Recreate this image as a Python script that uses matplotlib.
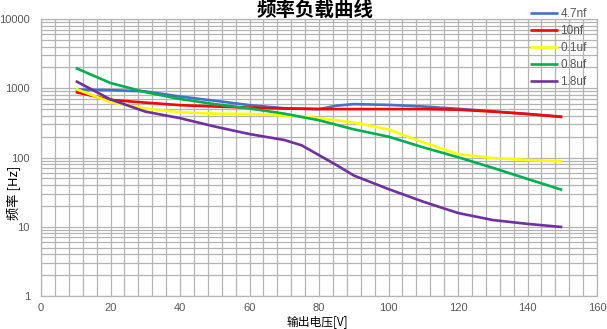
import matplotlib.pyplot as plt
import numpy as np
from matplotlib.ticker import MultipleLocator, LogLocator, FixedLocator, NullFormatter

plt.rcParams['font.family'] = ['Liberation Sans', 'Noto Sans CJK SC', 'DejaVu Sans']

# data
x_blue = [10, 20, 30, 40, 50, 60, 70, 80, 85, 90, 100, 110, 120, 130, 140, 150]
y_blue = [960, 940, 900, 760, 660, 570, 515, 500, 560, 590, 575, 545, 505, 465, 425, 388]

x_std = [10, 20, 30, 40, 50, 60, 70, 80, 90, 100, 110, 120, 130, 140, 150]
y_red = [880, 680, 620, 570, 545, 525, 510, 500, 500, 500, 500, 490, 460, 425, 385]
y_yellow = [980, 630, 510, 450, 430, 425, 405, 370, 320, 255, 165, 112, 98, 92, 88]
y_green = [1960, 1190, 880, 700, 590, 510, 430, 345, 255, 200, 140, 101, 71, 49, 34]

x_purple = [10, 20, 30, 40, 50, 60, 70, 75, 80, 85, 90, 100, 110, 120, 130, 140, 150]
y_purple = [1270, 690, 460, 370, 280, 218, 179, 150, 108, 78, 55, 35, 23, 15.8, 12.5, 11, 9.9]

labels = ['4.7nf', '10nf', '0.1uf', '0.8uf', '1.8uf']
colors = ['#4472C4', '#FF0000', '#FFFF00', '#00B050', '#7030A0']

x_ticks = [0, 20, 40, 60, 80, 100, 120, 140, 160]
y_ticks = [1, 10, 100, 1000, 10000]

fig = plt.figure(figsize=(6.07, 3.29), dpi=100)
ax = fig.add_axes([41 / 607, 1 - 296 / 329, 556 / 607, 277 / 329])

series = [(x_blue, y_blue), (x_std, y_red), (x_std, y_yellow),
          (x_std, y_green), (x_purple, y_purple)]
for (xs, ys), lab, col in zip(series, labels, colors):
    ax.plot(xs, ys, color=col, lw=1.9, label=lab, solid_capstyle='butt')

ax.set_yscale('log')
ax.set_xlim(0, 160)
ax.set_ylim(1, 10000)
ax.xaxis.set_major_locator(FixedLocator(x_ticks))
ax.xaxis.set_minor_locator(MultipleLocator(4))
ax.yaxis.set_major_locator(FixedLocator(y_ticks))
ax.yaxis.set_minor_locator(LogLocator(base=10, subs=np.arange(2, 10)))
ax.yaxis.set_minor_formatter(NullFormatter())
ax.set_yticklabels([str(v) for v in y_ticks])
ax.set_xticklabels([str(v) for v in x_ticks])

ax.grid(which='both', color='#b4b4b4', lw=0.9)
ax.set_axisbelow(True)
for s in ax.spines.values():
    s.set_color('#b4b4b4')
    s.set_linewidth(0.9)
ax.tick_params(which='both', length=0, colors='#595959', labelsize=8)
ax.tick_params(axis='y', pad=8)
ax.tick_params(axis='x', pad=5)

fig.text(315 / 607, 1 - 10 / 329, '频率负载曲线', ha='center', va='center',
         fontsize=14, fontweight='bold', family=['Noto Sans CJK SC'])
fig.text(14 / 607, 1 - 193 / 329, '频率 [Hz]', ha='center', va='center',
         rotation=90, fontsize=9.5, family=['Noto Sans CJK SC'])
fig.text(317 / 607, 1 - 322 / 329, '输出电压[V]', ha='center', va='center',
         fontsize=8.5, family=['Noto Sans CJK SC'])

fig.legend(loc='upper left', bbox_to_anchor=(528 / 607, 1 - 6 / 329),
           frameon=False, fontsize=8.5, handlelength=2.3, handletextpad=0.25,
           labelspacing=0.42, borderaxespad=0, borderpad=0.2,
           labelcolor='#595959')

fig.savefig('out.png', dpi=100)
